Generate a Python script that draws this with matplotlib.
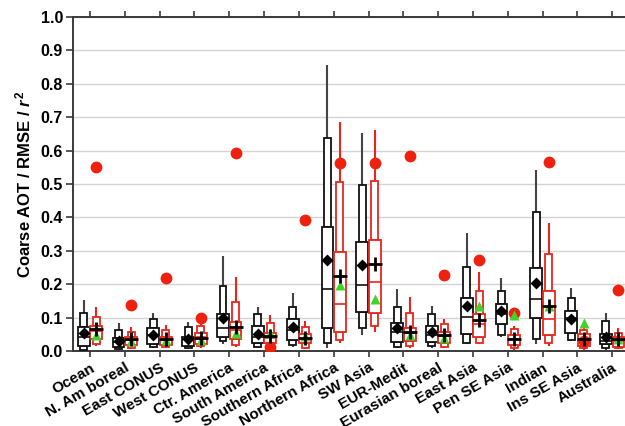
import matplotlib
matplotlib.use("Agg")
import matplotlib.pyplot as plt
import numpy as np

regions = ["Ocean", "N. Am boreal", "East CONUS", "West CONUS", "Ctr. America",
           "South America", "Southern Africa", "Northern Africa", "SW Asia",
           "EUR-Medit", "Eurasian boreal", "East Asia", "Pen SE Asia", "Indian",
           "Ins SE Asia", "Australia"]

# black series (percentile boxes)
blk_lo   = [0.000, 0.003, 0.008, 0.006, 0.022, 0.008, 0.012, 0.009, 0.048, 0.008, 0.010, 0.020, 0.042, 0.020, 0.030, 0.004]
blk_p10  = [0.002, 0.006, 0.013, 0.010, 0.030, 0.013, 0.018, 0.023, 0.068, 0.013, 0.016, 0.025, 0.048, 0.035, 0.033, 0.008]
blk_p25  = [0.015, 0.013, 0.021, 0.015, 0.043, 0.023, 0.033, 0.068, 0.118, 0.026, 0.026, 0.051, 0.080, 0.100, 0.053, 0.020]
blk_med  = [0.043, 0.028, 0.048, 0.035, 0.070, 0.043, 0.063, 0.185, 0.198, 0.058, 0.048, 0.103, 0.112, 0.155, 0.100, 0.030]
blk_p75  = [0.073, 0.038, 0.068, 0.043, 0.111, 0.076, 0.095, 0.372, 0.325, 0.083, 0.076, 0.160, 0.141, 0.250, 0.120, 0.050]
blk_p90  = [0.115, 0.063, 0.095, 0.073, 0.195, 0.110, 0.133, 0.637, 0.497, 0.131, 0.110, 0.252, 0.180, 0.417, 0.158, 0.090]
blk_hi   = [0.153, 0.083, 0.113, 0.088, 0.283, 0.133, 0.173, 0.856, 0.654, 0.185, 0.135, 0.354, 0.218, 0.542, 0.190, 0.115]
blk_mean = [0.055, 0.031, 0.047, 0.037, 0.098, 0.051, 0.073, 0.272, 0.257, 0.069, 0.058, 0.136, 0.120, 0.203, 0.095, 0.043]

# red series (percentile boxes)
red_lo   = [0.015, 0.005, 0.008, 0.010, 0.012, 0.005, 0.005, 0.025, 0.058, 0.008, 0.008, 0.020, 0.003, 0.015, 0.003, 0.005]
red_p10  = [0.021, 0.010, 0.012, 0.014, 0.018, 0.012, 0.010, 0.033, 0.075, 0.014, 0.012, 0.025, 0.008, 0.025, 0.008, 0.010]
red_p25  = [0.035, 0.018, 0.018, 0.020, 0.036, 0.025, 0.023, 0.058, 0.113, 0.030, 0.025, 0.043, 0.018, 0.048, 0.015, 0.013]
red_med  = [0.061, 0.033, 0.033, 0.043, 0.062, 0.040, 0.035, 0.140, 0.206, 0.055, 0.045, 0.080, 0.035, 0.095, 0.030, 0.030]
red_p75  = [0.076, 0.043, 0.043, 0.053, 0.088, 0.053, 0.050, 0.295, 0.332, 0.068, 0.056, 0.110, 0.048, 0.180, 0.050, 0.043]
red_p90  = [0.103, 0.058, 0.063, 0.075, 0.148, 0.083, 0.073, 0.507, 0.510, 0.115, 0.080, 0.180, 0.065, 0.290, 0.062, 0.053]
red_hi   = [0.131, 0.073, 0.077, 0.090, 0.222, 0.108, 0.090, 0.687, 0.662, 0.163, 0.095, 0.237, 0.075, 0.382, 0.072, 0.068]
red_mean = [0.065, 0.035, 0.037, 0.040, 0.071, 0.044, 0.040, 0.225, 0.260, 0.058, 0.047, 0.093, 0.035, 0.135, 0.035, 0.035]

green_tri = [0.048, 0.030, 0.033, 0.033, 0.053, 0.055, 0.045, 0.198, 0.155, 0.048, 0.040, 0.136, 0.108, 0.135, 0.085, 0.036]
r2        = [0.550, 0.137, 0.220, 0.098, 0.593, 0.013, 0.393, 0.564, 0.562, 0.583, 0.228, 0.271, 0.113, 0.567, 0.030, 0.182]

FONT = "Liberation Sans"
plt.rcParams["font.family"] = [FONT, "DejaVu Sans"]
plt.rcParams["font.weight"] = "bold"
plt.rcParams["mathtext.fontset"] = "custom"
plt.rcParams["mathtext.it"] = "Liberation Sans:italic:bold"
plt.rcParams["mathtext.rm"] = "Liberation Sans:bold"

fig = plt.figure(figsize=(6.25, 4.26), dpi=100)
ax = fig.add_axes([72.6 / 625, 75 / 426, 557 / 625, 334 / 426])

x = np.arange(len(regions))
off = 0.18
wide, narrow = 0.34, 0.2
BLK = "#111111"
BLKW = "#444444"
RED = "#e8261e"

def draw_series(xs, lo, p10, p25, med, p75, p90, hi, ec, wc):
    ax.vlines(xs, lo, p10, color=wc, lw=1.5, zorder=2)
    ax.vlines(xs, p90, hi, color=wc, lw=1.5, zorder=2)
    p10a, p25a, p75a, p90a = map(np.asarray, (p10, p25, p75, p90))
    ax.bar(xs, p25a - p10a, bottom=p10a, width=narrow, color="white", edgecolor=ec, lw=1.3, zorder=3)
    ax.bar(xs, p90a - p75a, bottom=p75a, width=narrow, color="white", edgecolor=ec, lw=1.3, zorder=3)
    ax.bar(xs, p75a - p25a, bottom=p25a, width=wide, color="white", edgecolor=ec, lw=1.3, zorder=3)
    ax.hlines(med, xs - wide / 2, xs + wide / 2, color=ec, lw=1.2, zorder=4)

draw_series(x - off, blk_lo, blk_p10, blk_p25, blk_med, blk_p75, blk_p90, blk_hi, BLK, BLKW)
draw_series(x + off, red_lo, red_p10, red_p25, red_med, red_p75, red_p90, red_hi, RED, RED)

ax.plot(x + off, r2, "o", color="#f0200f", ms=8.5, mec="none", zorder=5)
ax.plot(x + off, green_tri, "^", color="#3fd42a", ms=7.5, mec="none", zorder=6)
ax.plot(x + off, red_mean, "+", color="black", ms=10, mew=2.0, zorder=7)
ax.plot(x - off, blk_mean, "D", color="black", ms=6.5, mec="none", zorder=7)

ax.set_xlim(-0.5, len(regions) - 0.5)
ax.set_ylim(0, 1.0)
yt = np.arange(0, 1.01, 0.1)
ax.set_yticks(yt)
ax.set_yticklabels([f"{v:.1f}" for v in yt], fontsize=11.5, fontweight="bold")
ax.set_xticks(x)
ax.set_xticklabels(regions, rotation=30, ha="right", rotation_mode="anchor",
                   fontsize=11, fontweight="bold")
ax.set_ylabel("Coarse AOT / RMSE / $r^2$", fontsize=12, fontweight="bold", labelpad=5)

ax.yaxis.grid(True, color="#d4d4d4", lw=1.0)
ax.set_axisbelow(True)
for s in ["left", "bottom", "top"]:
    ax.spines[s].set_color("#3a3a3a")
    ax.spines[s].set_linewidth(1.4)
ax.spines["right"].set_visible(False)
ax.tick_params(axis="x", direction="out", length=4, width=1.2, color="#3a3a3a", top=True, pad=3)
ax.tick_params(axis="y", direction="out", length=5, width=1.2, color="#3a3a3a", pad=2)

fig.savefig("out.png", dpi=100)
